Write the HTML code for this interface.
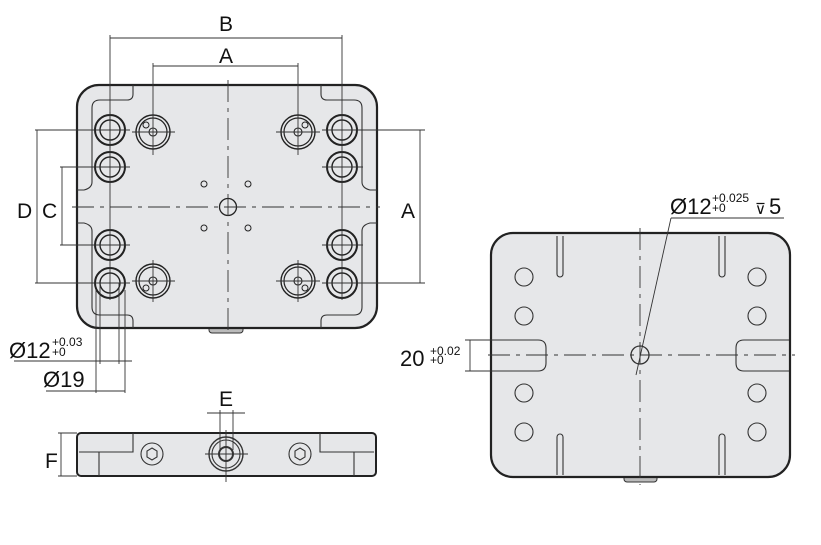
<!DOCTYPE html>
<html><head><meta charset="utf-8"><style>
html,body{margin:0;padding:0;background:#fff;}
svg{display:block;}
text{font-family:"Liberation Sans","DejaVu Sans",sans-serif;fill:#111;}
</style></head><body>
<svg width="821" height="545" viewBox="0 0 821 545" xmlns="http://www.w3.org/2000/svg">
<defs>
<g id="cb"><circle r="15" fill="none" stroke="#222" stroke-width="2"/><circle r="10" fill="none" stroke="#222" stroke-width="1.4"/></g>
<g id="pin"><circle r="17" fill="none" stroke="#222" stroke-width="1.4"/><circle r="14" fill="none" stroke="#222" stroke-width="1.2"/><circle r="4" fill="none" stroke="#222" stroke-width="1.1"/></g>
</defs>
<!-- TOP VIEW -->
<rect x="209" y="326" width="34" height="7" rx="3" fill="#bbb" stroke="#333" stroke-width="1"/>
<rect x="77" y="85" width="300" height="243" rx="22" fill="#e6e7e9" stroke="#222" stroke-width="2.2"/>
<g fill="none" stroke="#333" stroke-width="1.1">
<path d="M133 85 V94 Q133 100 127 100 H100 Q92 100 92 108 V182 Q92 188 84 190 H77"/>
<path d="M321 85 V94 Q321 100 327 100 H354 Q362 100 362 108 V182 Q362 188 370 190 H377"/>
<path d="M77 223 H84 Q92 225 92 231 V307 Q92 315 100 315 H127 Q133 315 133 321 V328"/>
<path d="M377 223 H370 Q362 225 362 231 V307 Q362 315 354 315 H327 Q321 315 321 321 V328"/>
</g>
<g>
<use href="#cb" x="110" y="130"/><use href="#cb" x="110" y="167"/><use href="#cb" x="110" y="245"/><use href="#cb" x="110" y="283"/>
<use href="#cb" x="342" y="130"/><use href="#cb" x="342" y="167"/><use href="#cb" x="342" y="245"/><use href="#cb" x="342" y="283"/>
<use href="#pin" x="153" y="132"/><use href="#pin" x="298" y="132"/><use href="#pin" x="153" y="281"/><use href="#pin" x="298" y="281"/>
</g>
<g fill="none" stroke="#222" stroke-width="1">
<circle cx="146" cy="125" r="3"/><circle cx="305" cy="125" r="3"/><circle cx="146" cy="288" r="3"/><circle cx="305" cy="288" r="3"/>
<circle cx="228" cy="207" r="8.5" stroke-width="1.3"/>
<circle cx="204" cy="184" r="3"/><circle cx="248" cy="184" r="3"/><circle cx="204" cy="228" r="3"/><circle cx="248" cy="228" r="3"/>
</g>
<g stroke="#333" stroke-width="0.9" fill="none">
<line x1="228" y1="80" x2="228" y2="335" stroke-dasharray="22,6,4,6"/>
<line x1="72" y1="207" x2="380" y2="207" stroke-dasharray="22,6,4,6"/>
<!-- crosshairs -->
<line x1="35" y1="130" x2="130" y2="130"/><line x1="322" y1="130" x2="425" y2="130"/>
<line x1="35" y1="283" x2="130" y2="283"/><line x1="322" y1="283" x2="425" y2="283"/>
<line x1="60" y1="167" x2="130" y2="167"/><line x1="322" y1="167" x2="363" y2="167"/>
<line x1="60" y1="245" x2="130" y2="245"/><line x1="322" y1="245" x2="363" y2="245"/>
<line x1="110" y1="35" x2="110" y2="300"/><line x1="342" y1="35" x2="342" y2="300"/>
<line x1="153" y1="63" x2="153" y2="155"/><line x1="298" y1="63" x2="298" y2="155"/>
<line x1="153" y1="260" x2="153" y2="302"/><line x1="298" y1="260" x2="298" y2="302"/>
<line x1="132" y1="132" x2="175" y2="132"/><line x1="276" y1="132" x2="320" y2="132"/>
<line x1="132" y1="281" x2="175" y2="281"/><line x1="276" y1="281" x2="320" y2="281"/>
<line x1="110" y1="112" x2="110" y2="148"/>
<!-- dims -->
<line x1="110" y1="38" x2="342" y2="38"/><line x1="153" y1="66" x2="298" y2="66"/>
<line x1="420" y1="130" x2="420" y2="283"/>
<line x1="37" y1="130" x2="37" y2="283"/><line x1="62" y1="167" x2="62" y2="245"/>
<line x1="100" y1="283" x2="100" y2="364"/><line x1="119" y1="283" x2="119" y2="364"/>
<line x1="96" y1="290" x2="96" y2="393"/><line x1="125" y1="290" x2="125" y2="393"/>
<line x1="14" y1="361" x2="132" y2="361"/><line x1="46" y1="391" x2="125" y2="391"/>
</g>
<text x="219" y="31" font-size="21">B</text>
<text x="219" y="63" font-size="21">A</text>
<text x="401" y="218" font-size="21">A</text>
<text x="17" y="218" font-size="21">D</text>
<text x="42" y="218" font-size="21">C</text>
<text x="9" y="358" font-size="22">Ø12</text>
<text x="52" y="346" font-size="12">+0.03</text>
<text x="52" y="356" font-size="12">+0</text>
<text x="43" y="387" font-size="22">Ø19</text>
<!-- SIDE VIEW -->
<rect x="77" y="433" width="299" height="43" rx="4" fill="#e6e7e9" stroke="#222" stroke-width="2"/>
<g fill="none" stroke="#333" stroke-width="1.1">
<path d="M133 433 V452 H79"/><path d="M99 452 V476"/>
<path d="M320 433 V452 H374"/><path d="M354 452 V476"/>
<circle cx="152" cy="454" r="11"/><circle cx="300" cy="454" r="11"/>
<polygon points="152,448 157,451 157,457 152,460 147,457 147,451"/>
<polygon points="300,448 305,451 305,457 300,460 295,457 295,451"/>
<circle cx="226" cy="454" r="17" stroke-width="1.4"/><circle cx="226" cy="454" r="14"/><circle cx="226" cy="454" r="7" stroke-width="2"/>
</g>
<g stroke="#333" stroke-width="0.9">
<line x1="226" y1="430" x2="226" y2="482"/><line x1="205" y1="454" x2="248" y2="454"/>
<line x1="220" y1="410" x2="220" y2="450"/><line x1="233" y1="410" x2="233" y2="450"/>
<line x1="207" y1="413" x2="245" y2="413"/>
<line x1="61" y1="433" x2="61" y2="476"/><line x1="58" y1="433" x2="77" y2="433"/><line x1="58" y1="476" x2="77" y2="476"/>
</g>
<text x="219" y="406" font-size="21">E</text>
<text x="45" y="468" font-size="21">F</text>
<!-- RIGHT VIEW -->
<rect x="624" y="474" width="33" height="8" rx="3" fill="#bbb" stroke="#333" stroke-width="1"/>
<rect x="491" y="233" width="299" height="244" rx="22" fill="#e6e7e9" stroke="#222" stroke-width="2.2"/>
<g fill="none" stroke="#333" stroke-width="1.1">
<circle cx="524" cy="277" r="9"/><circle cx="524" cy="316" r="9"/><circle cx="524" cy="393" r="9"/><circle cx="524" cy="432" r="9"/>
<circle cx="757" cy="277" r="9"/><circle cx="757" cy="316" r="9"/><circle cx="757" cy="393" r="9"/><circle cx="757" cy="432" r="9"/>
<path d="M557 236 V274 A3 3 0 0 0 563 274 V236"/><path d="M719 236 V274 A3 3 0 0 0 725 274 V236"/>
<path d="M557 475 V437 A3 3 0 0 1 563 437 V475"/><path d="M719 475 V437 A3 3 0 0 1 725 437 V475"/>
<path d="M492 340 H538 Q546 340 546 348 V363 Q546 371 538 371 H492"/>
<path d="M789 340 H744 Q736 340 736 348 V363 Q736 371 744 371 H789"/>
<circle cx="640" cy="355" r="9" stroke-width="1.3"/>
</g>
<g stroke="#333" stroke-width="0.9" fill="none">
<line x1="640" y1="228" x2="640" y2="485" stroke-dasharray="22,6,4,6"/>
<line x1="488" y1="355" x2="795" y2="355" stroke-dasharray="22,6,4,6"/>
<line x1="636" y1="375" x2="671" y2="218"/><line x1="671" y1="218" x2="784" y2="218"/>
<line x1="465" y1="340" x2="492" y2="340"/><line x1="465" y1="371" x2="492" y2="371"/>
<line x1="470" y1="340" x2="470" y2="371"/>
</g>
<text x="400" y="366" font-size="22">20</text>
<text x="430" y="355" font-size="12">+0.02</text>
<text x="430" y="364" font-size="12">+0</text>
<text x="670" y="214" font-size="22">Ø12</text>
<text x="712" y="202" font-size="12">+0.025</text>
<text x="712" y="212" font-size="12">+0</text>
<text x="755" y="214" font-size="15">⊽</text>
<text x="769" y="214" font-size="22">5</text>
</svg>
</body></html>
